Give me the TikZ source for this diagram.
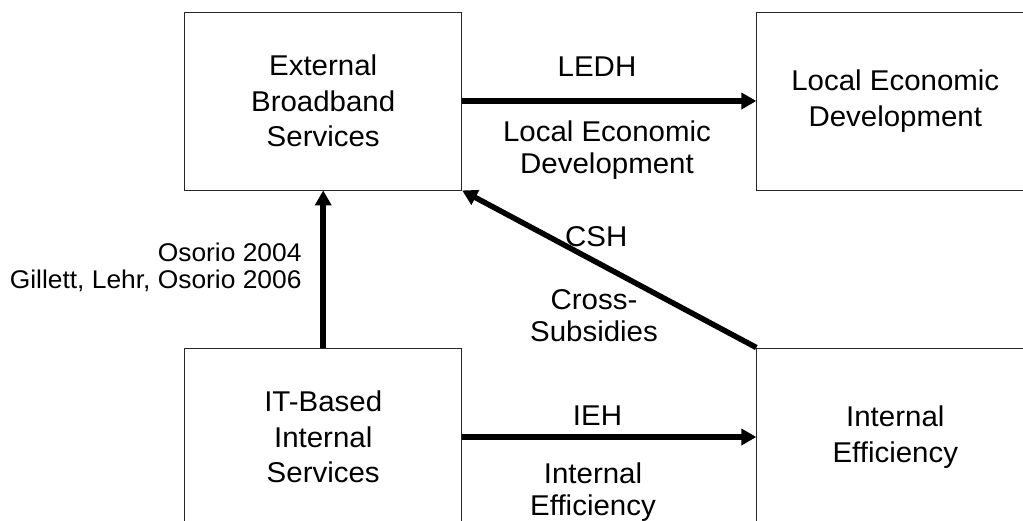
\documentclass[tikz,border=0pt]{standalone}
\usepackage{fontspec}
\setmainfont[FakeStretch=1.03]{Liberation Sans}
\usetikzlibrary{arrows.meta}
\begin{document}
\begin{tikzpicture}[x=1pt,y=-1pt,
  box/.style={draw=black!85, line width=0.9pt, minimum width=277pt, minimum height=178pt,
    align=center, inner sep=0pt, font=\fontsize{28.6}{35.5}\selectfont},
  lbl/.style={inner sep=0pt, align=center, font=\fontsize{28.6}{32}\selectfont},
  cite/.style={inner sep=0pt, align=right, font=\fontsize{25.6}{26.7}\selectfont},
  flow/.style={line width=5.5pt, -{Triangle[length=15pt,width=16pt]}}]
\useasboundingbox (0,0) rectangle (1023,520);
\clip (0,0) rectangle (1023,520);

\node[box] (ext) at (323.2,101) {External\\Broadband\\Services};
\node[box] (led) at (895.3,101) {Local Economic\\Development};
\node[box] (its) at (323.2,437) {IT-Based\\Internal\\Services};
\node[box] (ie)  at (895.3,437) {Internal\\Efficiency};

\draw[flow] (ext.east) -- (led.west);
\draw[flow] (its.east) -- (ie.west);
\draw[flow] (its.north) -- (ext.south);
\draw[flow] (ie.north west) -- (ext.south east);

\node[lbl, anchor=base] (ledh) at (597,76.7) {LEDH};
\node[lbl] (ledtxt) at (607,150.3) {Local Economic\\Development};
\node[lbl, anchor=base] (csh) at (596.3,246.7) {CSH};
\node[lbl] (cstxt) at (594,316) {Cross-\\Subsidies};
\node[lbl, anchor=base] (ieh) at (597.5,425) {IEH};
\node[lbl] (ietxt) at (593,492.5) {Internal\\Efficiency};
\node[cite, anchor=east] (cite) at (301.7,267.2) {Osorio 2004\\Gillett, Lehr, Osorio 2006};
\end{tikzpicture}
\end{document}
